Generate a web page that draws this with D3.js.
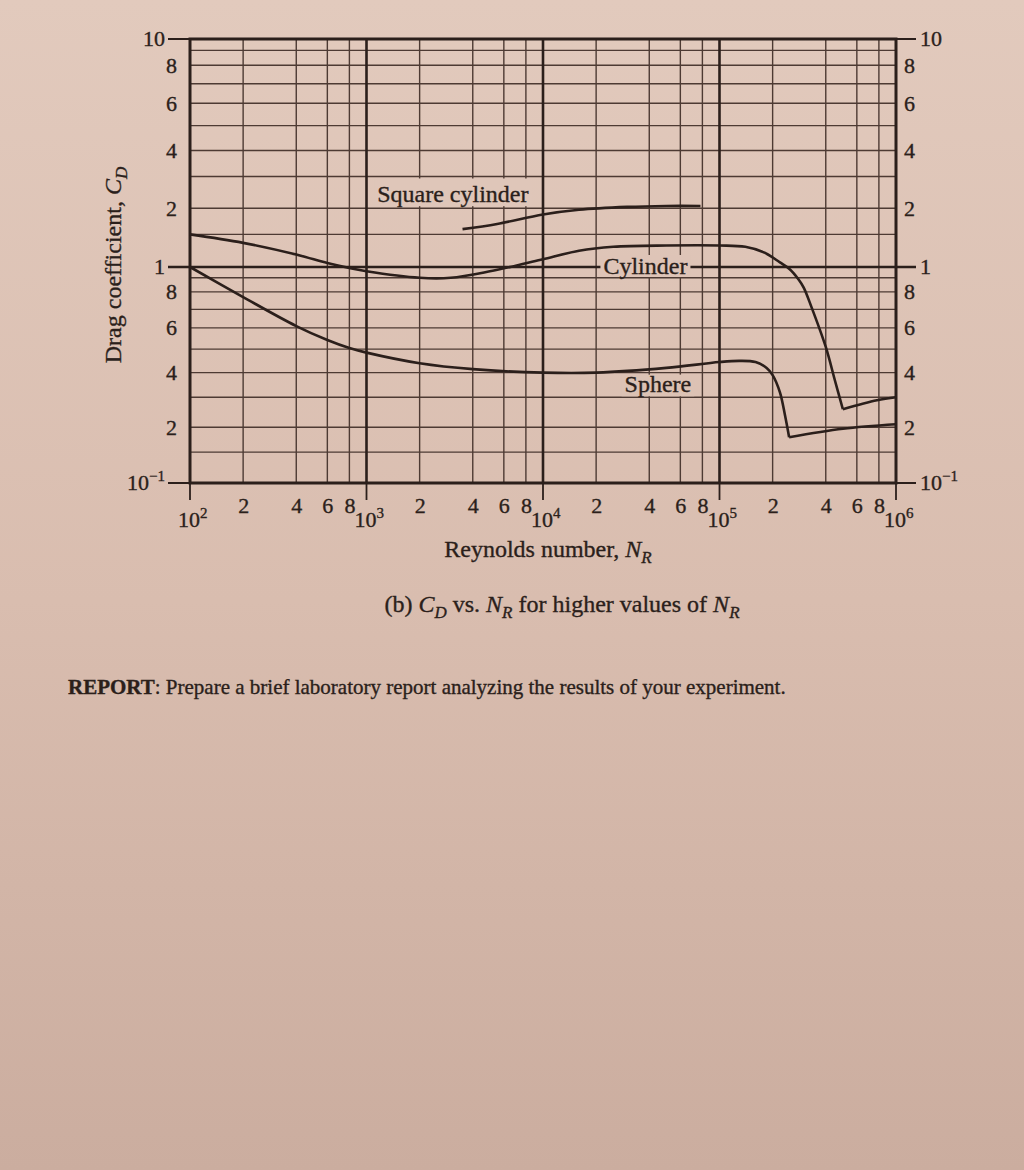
<!DOCTYPE html>
<html>
<head>
<meta charset="utf-8">
<script src="https://cdn.jsdelivr.net/npm/d3@7"></script>
<style>
  html, body { margin: 0; padding: 0; }
  body { width: 1024px; height: 1170px; overflow: hidden; }
  svg text { font-family: "Liberation Serif", "Times New Roman", serif; fill: #2b1f1b; stroke: #2b1f1b; stroke-width: 0.35px; }
</style>
</head>
<body>
<div id="chart"></div>
<script>
// =============== Data (Re, Cd)
// sphere: up to the drag crisis, then the recovery branch
var sphereRe1 = [100, 200, 400, 600, 800, 1000, 2000, 4000, 10000, 20000, 50000, 100000, 130000, 160000, 185000, 200000, 220000, 235000, 248000];
var sphereCd1 = [1.0, 0.77, 0.61, 0.543, 0.505, 0.485, 0.44, 0.415, 0.4, 0.4, 0.42, 0.445, 0.45, 0.445, 0.42, 0.39, 0.32, 0.24, 0.18];
var sphereRe2 = [248000, 500000, 1000000];
var sphereCd2 = [0.18, 0.197, 0.21];

// cylinder
var cylinderRe1 = [100, 200, 400, 600, 800, 1000, 2000, 3000, 5000, 7000, 10000, 16000, 25000, 50000, 100000, 140000, 180000, 220000, 250000, 280000, 300000, 330000, 400000, 450000, 500000];
var cylinderCd1 = [1.5, 1.37, 1.19, 1.06, 0.99, 0.96, 0.9, 0.9, 0.96, 1.02, 1.12, 1.25, 1.31, 1.33, 1.33, 1.31, 1.22, 1.07, 0.98, 0.89, 0.83, 0.72, 0.51, 0.37, 0.26];
var cylinderRe2 = [500000, 780000, 1000000];
var cylinderCd2 = [0.26, 0.29, 0.3];

// square cylinder
var squareRe = [3500, 5500, 10000, 16000, 30000, 50000, 78000];
var squareCd = [1.6, 1.7, 1.88, 1.97, 2.04, 2.07, 2.07];

// tick labels
var xDecades = [1e2, 1e3, 1e4, 1e5, 1e6];
var xDecadeExp = ["2", "3", "4", "5", "6"];
var xMinor = [2, 4, 6, 8];
var yMinorLabels = [8, 6, 4, 2, 0.8, 0.6, 0.4, 0.2];
var yDecades = [10, 1, 0.1];

// grid steps inside one decade of the printed sheet
var decadeStops = [1, 1.5, 2, 3, 4, 5, 6, 7, 8, 9, 10];
// the printed grid is not a true log grid, so the y scale follows its lines
var decadeFrac = [0, 0.143, 0.258, 0.397, 0.511, 0.62, 0.718, 0.804, 0.885, 0.95, 1];

// =========== Layout
var svgWidth = 1024;
var svgHeight = 1170;
var plot = { left: 190, right: 896, top: 39, mid: 267, bottom: 483 };
var ink = "#2b1f1b";
var gridInk = "#4d3a33";

var svg = d3.select("#chart").append("svg")
    .attr("width", svgWidth)
    .attr("height", svgHeight);

// =========== Paper background
var bgAt = d3.scaleLinear()
    .domain([0, 600, 1170])
    .range(["#e2cabd", "#d9bdaf", "#cbad9f"]);

var defs = svg.append("defs");
var grad = defs.append("linearGradient")
    .attr("id", "paper")
    .attr("x1", 0).attr("y1", 0).attr("x2", 0).attr("y2", 1);
[0, 600, 1170].forEach(function(v) {
    grad.append("stop")
        .attr("offset", v / 1170)
        .attr("stop-color", bgAt(v));
});
svg.append("rect")
    .attr("width", svgWidth)
    .attr("height", svgHeight)
    .attr("fill", "url(#paper)");

// ===========Scales
var x = d3.scaleLog()
    .domain([1e2, 1e6])
    .range([plot.left, plot.right]);

var yDomain = [];
var yRange = [];
decadeStops.forEach(function(v, i) {
    yDomain.push(v / 10);
    yRange.push(plot.bottom - decadeFrac[i] * (plot.bottom - plot.mid));
});
decadeStops.forEach(function(v, i) {
    if (i === 0) return;
    yDomain.push(v);
    yRange.push(plot.mid - decadeFrac[i] * (plot.mid - plot.top));
});
var y = d3.scaleLinear().domain(yDomain).range(yRange);

// ===========Grid
var xMinorVals = [];
xDecades.slice(0, 4).forEach(function(d) {
    xMinor.forEach(function(m) { xMinorVals.push(d * m); });
});
var yGridVals = yDomain.filter(function(v) { return v !== 0.1 && v !== 1 && v !== 10; });

var grid = svg.append("g");
grid.selectAll("line.vx")
    .data(xMinorVals)
    .enter().append("line")
    .attr("x1", function(d) { return x(d); })
    .attr("x2", function(d) { return x(d); })
    .attr("y1", plot.top)
    .attr("y2", plot.bottom)
    .attr("stroke", gridInk)
    .attr("stroke-width", 1.4);

grid.selectAll("line.hy")
    .data(yGridVals)
    .enter().append("line")
    .attr("x1", plot.left)
    .attr("x2", plot.right)
    .attr("y1", function(d) { return y(d); })
    .attr("y2", function(d) { return y(d); })
    .attr("stroke", gridInk)
    .attr("stroke-width", 1.4);

// heavy decade lines
grid.selectAll("line.dx")
    .data([1e3, 1e4, 1e5])
    .enter().append("line")
    .attr("x1", function(d) { return x(d); })
    .attr("x2", function(d) { return x(d); })
    .attr("y1", plot.top)
    .attr("y2", plot.bottom)
    .attr("stroke", ink)
    .attr("stroke-width", 2.6);

// frame, with the decade ticks sticking out of it
svg.append("rect")
    .attr("x", plot.left)
    .attr("y", plot.top)
    .attr("width", plot.right - plot.left)
    .attr("height", plot.bottom - plot.top)
    .attr("fill", "none")
    .attr("stroke", ink)
    .attr("stroke-width", 3);

svg.selectAll("line.ytick")
    .data(yDecades)
    .enter().append("line")
    .attr("x1", plot.left - 22)
    .attr("x2", plot.right + 20)
    .attr("y1", function(d) { return y(d); })
    .attr("y2", function(d) { return y(d); })
    .attr("stroke", ink)
    .attr("stroke-width", function(d) { return d === 1 ? 2.6 : 1.8; });

svg.selectAll("line.xtick")
    .data(xDecades)
    .enter().append("line")
    .attr("x1", function(d) { return x(d); })
    .attr("x2", function(d) { return x(d); })
    .attr("y1", plot.bottom)
    .attr("y2", plot.bottom + 17)
    .attr("stroke", ink)
    .attr("stroke-width", 1.8);

// ===========Minor tick labels through d3 axes
function mantissa(d) { return d < 1 ? Math.round(d * 10) : d; }

function styleAxis(g) {
    g.select(".domain").remove();
    g.selectAll("line").remove();
    g.selectAll("text")
        .attr("font-size", 22)
        .attr("fill", ink)
        .style("font-family", "'Liberation Serif', serif");
}

svg.append("g")
    .attr("transform", "translate(0," + plot.bottom + ")")
    .call(d3.axisBottom(x).tickValues(xMinorVals).tickSize(0).tickPadding(14)
        .tickFormat(function(d) { return Math.round(d / Math.pow(10, Math.floor(Math.log10(d) + 1e-9))); }))
    .call(styleAxis);

svg.append("g")
    .attr("transform", "translate(" + plot.left + ",0)")
    .call(d3.axisLeft(y).tickValues(yMinorLabels).tickSize(0).tickPadding(13).tickFormat(mantissa))
    .call(styleAxis);

svg.append("g")
    .attr("transform", "translate(" + plot.right + ",0)")
    .call(d3.axisRight(y).tickValues(yMinorLabels).tickSize(0).tickPadding(8).tickFormat(mantissa))
    .call(styleAxis);

// ===========Decade labels
function decadeLabel(sel, d) {
    if (d === 0.1) {
        sel.append("tspan").text("10");
        sel.append("tspan").attr("font-size", 15).attr("dy", -9).text("\u22121");
    } else {
        sel.text(d === 10 ? "10" : "1");
    }
}

yDecades.forEach(function(d) {
    svg.append("text")
        .attr("x", plot.left - 25)
        .attr("y", y(d) + 7)
        .attr("text-anchor", "end")
        .attr("font-size", 22)
        .call(decadeLabel, d);
    svg.append("text")
        .attr("x", plot.right + 24)
        .attr("y", y(d) + 7)
        .attr("font-size", 22)
        .call(decadeLabel, d);
});

xDecades.forEach(function(d, i) {
    var t = svg.append("text")
        .attr("x", x(d) - 12)
        .attr("y", plot.bottom + 44)
        .attr("font-size", 22);
    t.append("tspan").text("10");
    t.append("tspan").attr("font-size", 15).attr("dy", -9).text(xDecadeExp[i]);
});

// ===========Curve labels (the print clears the grid behind them)
function curveLabel(text, re, baseY, top, bottom) {
    var t = svg.append("text")
        .attr("x", x(re))
        .attr("y", baseY)
        .attr("font-size", 24)
        .text(text);
    var b = t.node().getBBox();
    var y0 = top !== undefined ? top : b.y + 2;
    var y1 = bottom !== undefined ? bottom : b.y + b.height - 2;
    svg.insert("rect", function() { return t.node(); })
        .attr("x", b.x - 3)
        .attr("y", y0)
        .attr("width", b.width + 6)
        .attr("height", y1 - y0)
        .attr("fill", bgAt((y0 + y1) / 2));
}

curveLabel("Square cylinder", 1150, y(2.2), y(3) + 2, y(2) - 2);
curveLabel("Cylinder", 22000, y(1) + 7);
curveLabel("Sphere", 29000, y(0.3) - 5, y(0.4) + 2, y(0.3) - 1);

// ===========Curves
var line = d3.line()
    .x(function(d) { return x(d[0]); })
    .y(function(d) { return y(d[1]); })
    .curve(d3.curveCatmullRom.alpha(0.5));

var segments = [
    [sphereRe1, sphereCd1],
    [sphereRe2, sphereCd2],
    [cylinderRe1, cylinderCd1],
    [cylinderRe2, cylinderCd2],
    [squareRe, squareCd]
];

svg.append("g").selectAll("path")
    .data(segments)
    .enter().append("path")
    .attr("d", function(s) { return line(d3.zip(s[0], s[1])); })
    .attr("fill", "none")
    .attr("stroke", ink)
    .attr("stroke-width", 2.6)
    .attr("stroke-linejoin", "round");

// ===========Axis titles and caption
var xt = svg.append("text")
    .attr("x", 548)
    .attr("y", 557)
    .attr("text-anchor", "middle")
    .attr("font-size", 24);
xt.append("tspan").text("Reynolds number, ");
xt.append("tspan").attr("font-style", "italic").text("N");
xt.append("tspan").attr("font-style", "italic").attr("font-size", 17).attr("dy", 6).text("R");

var yt = svg.append("text")
    .attr("transform", "translate(121,265) rotate(-90)")
    .attr("text-anchor", "middle")
    .attr("font-size", 24);
yt.append("tspan").text("Drag coefficient, ");
yt.append("tspan").attr("font-style", "italic").text("C");
yt.append("tspan").attr("font-style", "italic").attr("font-size", 17).attr("dy", 6).text("D");

var cap = svg.append("text")
    .attr("x", 562)
    .attr("y", 612)
    .attr("text-anchor", "middle")
    .attr("font-size", 24);
cap.append("tspan").text("(b) ");
cap.append("tspan").attr("font-style", "italic").text("C");
cap.append("tspan").attr("font-style", "italic").attr("font-size", 17).attr("dy", 6).text("D");
cap.append("tspan").attr("dy", -6).text(" vs. ");
cap.append("tspan").attr("font-style", "italic").text("N");
cap.append("tspan").attr("font-style", "italic").attr("font-size", 17).attr("dy", 6).text("R");
cap.append("tspan").attr("dy", -6).text(" for higher values of ");
cap.append("tspan").attr("font-style", "italic").text("N");
cap.append("tspan").attr("font-style", "italic").attr("font-size", 17).attr("dy", 6).text("R");

var rep = svg.append("text")
    .attr("x", 68)
    .attr("y", 694)
    .attr("font-size", 21);
rep.append("tspan").attr("font-weight", "bold").text("REPORT");
rep.append("tspan").text(": Prepare a brief laboratory report analyzing the results of your experiment.");
</script>
</body>
</html>
